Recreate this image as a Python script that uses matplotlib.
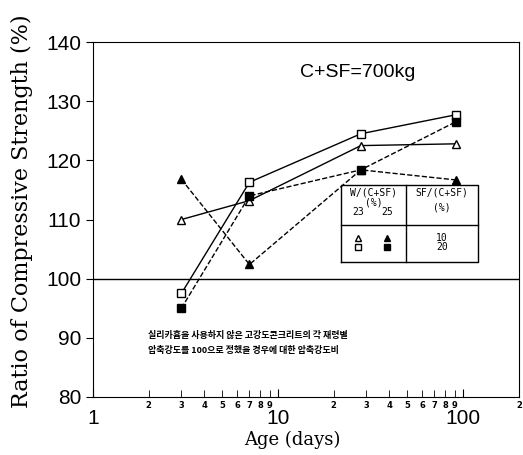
import matplotlib
matplotlib.use("Agg")
import matplotlib.pyplot as plt
from matplotlib.ticker import FixedLocator, FixedFormatter
from matplotlib.lines import Line2D

# data
age = [3, 7, 28, 91]
w23_sf20 = [97.5, 116.3, 124.5, 127.7]   # open square, solid
w23_sf10 = [110.0, 113.2, 122.5, 122.8]  # open triangle, solid
w25_sf20 = [95.0, 114.0, 118.4, 126.5]   # filled square, dashed
w25_sf10 = [116.8, 102.4, 118.4, 116.7]  # filled triangle, dashed

y_ticks = [80, 90, 100, 110, 120, 130, 140]
x_major = [1, 10, 100]
x_minor = [2, 3, 4, 5, 6, 7, 8, 9, 20, 30, 40, 50, 60, 70, 80, 90, 200]
x_minor_labels = ["2", "3", "4", "5", "6", "7", "8", "9",
                  "2", "3", "4", "5", "6", "7", "8", "9", "2"]

note = ["실리카흄을 사용하지 않은 고강도콘크리트의 각 재령별",
        "압축강도를 100으로 정했을 경우에 대한 압축강도비"]

fig = plt.figure(figsize=(5.23, 4.55), dpi=100)
ax = fig.add_axes([0.178, 0.1275, 0.814, 0.78])

ax.plot(age, w23_sf20, "k-", lw=1, marker="s", mfc="white", ms=6)
ax.plot(age, w23_sf10, "k-", lw=1, marker="^", mfc="white", ms=6)
ax.plot(age, w25_sf20, "k--", lw=1, marker="s", mfc="black", ms=6)
ax.plot(age, w25_sf10, "k--", lw=1, marker="^", mfc="black", ms=6)

ax.axhline(100, color="k", lw=1)

ax.set_xscale("log")
ax.set_xlim(1, 200)
ax.set_ylim(80, 140)
ax.xaxis.set_major_locator(FixedLocator(x_major))
ax.xaxis.set_major_formatter(FixedFormatter(["1", "10", "100"]))
ax.xaxis.set_minor_locator(FixedLocator(x_minor))
ax.xaxis.set_minor_formatter(FixedFormatter(x_minor_labels))
ax.set_yticks(y_ticks)

ax.tick_params(axis="x", which="major", direction="in", length=6,
               pad=9, labelsize=15)
ax.tick_params(axis="x", which="minor", direction="in", length=5,
               pad=3, labelsize=6)
ax.tick_params(axis="y", direction="out", length=5, labelsize=15)
for lab in ax.xaxis.get_majorticklabels() + ax.get_yticklabels():
    lab.set_family("Liberation Sans")
for lab in ax.xaxis.get_minorticklabels():
    lab.set_weight("bold")

fig.text(0.558, 0.033, "Age (days)", family="DejaVu Serif", fontsize=13,
         ha="center", va="center")
fig.text(0.042, 0.535, "Ratio of Compressive Strength (%)", rotation=90,
         family="DejaVu Serif", fontsize=16, ha="center", va="center")

ax.text(0.486, 0.915, "C+SF=700kg", transform=ax.transAxes, fontsize=14,
        va="center", family="Liberation Sans")

ax.text(0.13, 0.165, note[0], transform=ax.transAxes, fontsize=6.5,
        family=["Noto Sans CJK KR", "DejaVu Sans"], fontweight="bold")
ax.text(0.13, 0.125, note[1], transform=ax.transAxes, fontsize=6.5,
        family=["Noto Sans CJK KR", "DejaVu Sans"], fontweight="bold")

# legend table
x0, x1, xm = 0.582, 0.904, 0.735
y0, y1, ym = 0.38, 0.597, 0.485
kw = dict(transform=ax.transAxes, color="k", lw=1)
ax.add_line(Line2D([x0, x1, x1, x0, x0], [y0, y0, y1, y1, y0], **kw))
ax.add_line(Line2D([xm, xm], [y0, y1], **kw))
ax.add_line(Line2D([x0, x1], [ym, ym], **kw))
tk = dict(transform=ax.transAxes, fontsize=7, family="DejaVu Sans Mono",
          ha="center", va="center")
ax.text((x0 + xm) / 2, 0.575, "W/(C+SF)", **tk)
ax.text((x0 + xm) / 2, 0.548, "(%)", **tk)
ax.text(0.623, 0.522, "23", **tk)
ax.text(0.691, 0.522, "25", **tk)
ax.text((xm + x1) / 2, 0.575, "SF/(C+SF)", **tk)
ax.text((xm + x1) / 2, 0.535, "(%)", **tk)
ax.text((xm + x1) / 2, 0.449, "10", **tk)
ax.text((xm + x1) / 2, 0.422, "20", **tk)
mk = dict(transform=ax.transAxes, color="k", ls="none", ms=4)
ax.plot([0.623], [0.449], marker="^", mfc="white", **mk)
ax.plot([0.691], [0.449], marker="^", mfc="black", **mk)
ax.plot([0.623], [0.422], marker="s", mfc="white", **mk)
ax.plot([0.691], [0.422], marker="s", mfc="black", **mk)

fig.savefig("out.png", dpi=100)
